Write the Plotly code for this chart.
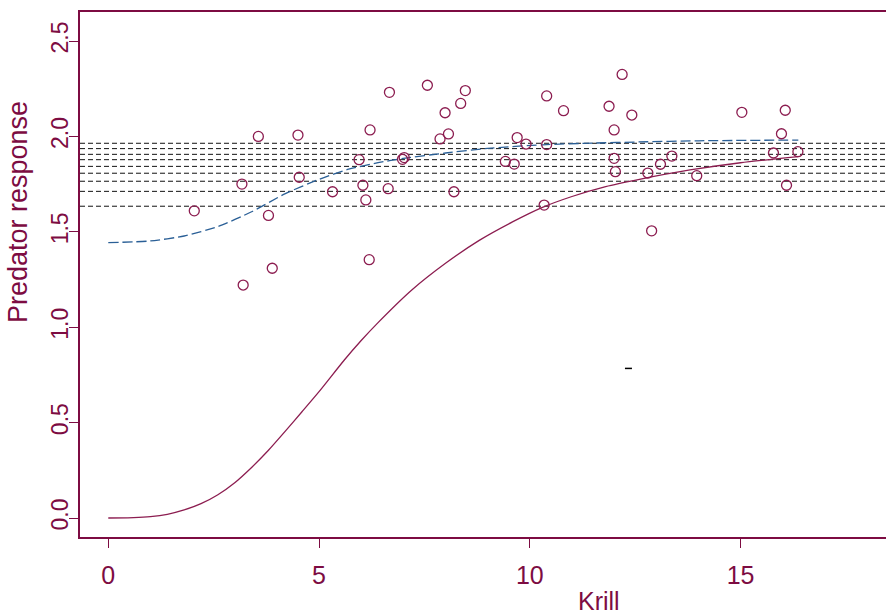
import plotly.graph_objects as go

# Observed krill density vs predator response
krill = [3.56, 4.50, 5.95, 3.17, 4.53, 5.32, 2.04, 3.80, 3.89, 3.20,
         6.04, 6.67, 7.57, 8.47, 8.36, 7.99, 6.21, 8.07, 7.87, 10.40,
         10.80, 11.88, 12.19, 12.00, 9.70, 9.91, 10.40, 7.02, 6.98, 9.42,
         9.63, 12.00, 12.03, 6.64, 6.11, 8.20, 10.34, 6.19, 12.42, 15.03,
         16.06, 15.97, 15.78, 16.36, 12.80, 13.10, 13.37, 13.96, 16.09, 12.89]
response = [2.000, 2.007, 1.878, 1.750, 1.786, 1.710, 1.610, 1.586, 1.309, 1.221,
            1.744, 2.231, 2.268, 2.240, 2.173, 2.124, 2.034, 2.013, 1.987, 2.212,
            2.135, 2.158, 2.325, 2.034, 1.994, 1.960, 1.957, 1.889, 1.880, 1.869,
            1.855, 1.885, 1.815, 1.726, 1.667, 1.710, 1.640, 1.354, 2.112, 2.126,
            2.137, 2.014, 1.913, 1.920, 1.808, 1.854, 1.897, 1.794, 1.744, 1.505]

# Fitted response curve (solid)
fit_x = [0, 0.6, 1.0, 1.4, 1.8, 2.2, 2.6, 3.0, 3.4, 3.8, 4.2, 4.6, 5.0, 5.6,
         6.0, 6.4, 7.2, 8.0, 8.8, 9.6, 10.3, 11.0, 11.8, 12.6, 13.8, 15.0, 16.37]
fit_y = [0.0, 0.002, 0.007, 0.019, 0.042, 0.075, 0.122, 0.185, 0.265, 0.355,
         0.455, 0.558, 0.662, 0.828, 0.93, 1.024, 1.195, 1.335, 1.455, 1.553, 1.628,
         1.685, 1.737, 1.775, 1.824, 1.862, 1.894]

# Alternative fitted curve (dashed)
alt_x = [0, 1.0, 1.8, 2.6, 3.4, 4.2, 5.0, 5.7, 6.4, 7.0, 8.0, 9.0, 10.3,
         11.5, 12.6, 14.0, 16.37]
alt_y = [1.443, 1.452, 1.478, 1.527, 1.605, 1.70, 1.775, 1.828, 1.862,
         1.885, 1.913, 1.937, 1.956, 1.965, 1.971, 1.977, 1.981]

# Horizontal reference levels
ref_levels = [1.964, 1.936, 1.906, 1.878, 1.843, 1.807, 1.765, 1.712, 1.634]

# Small marker
tick_mark_x = [12.34]
tick_mark_y = [0.784]

x_ticks = [0, 5, 10, 15]
y_ticks = [0.0, 0.5, 1.0, 1.5, 2.0, 2.5]

MAROON = "#7d0c42"
POINT = "#8c1d50"
BLUE = "#2a5f96"
NARROW = "Liberation Sans Narrow, Arial Narrow, Liberation Sans, Arial, sans-serif"
SANS = "Liberation Sans, Arial, sans-serif"

X_RANGE = [-0.671, 18.45]
Y_RANGE = [-0.0996, 2.652]

fig = go.Figure()

for lvl in ref_levels:
    fig.add_trace(go.Scatter(
        x=X_RANGE, y=[lvl, lvl], mode="lines",
        line=dict(color="#111111", width=1, dash="5px,3px"),
        showlegend=False, hoverinfo="skip"))

fig.add_trace(go.Scatter(
    x=alt_x, y=alt_y, mode="lines",
    line=dict(color=BLUE, width=1.3, dash="10px,4px", shape="spline", smoothing=0.6),
    showlegend=False))

fig.add_trace(go.Scatter(
    x=fit_x, y=fit_y, mode="lines",
    line=dict(color=POINT, width=1.3, shape="spline", smoothing=0.6),
    showlegend=False))

fig.add_trace(go.Scatter(
    x=krill, y=response, mode="markers",
    marker=dict(symbol="circle-open", size=10, color=POINT, line=dict(width=1.3, color=POINT)),
    showlegend=False))

fig.add_trace(go.Scatter(
    x=tick_mark_x, y=tick_mark_y, mode="markers",
    marker=dict(symbol="line-ew", size=5, line=dict(width=1.5, color="#000000")),
    showlegend=False))

fig.update_layout(
    width=886, height=616,
    margin=dict(l=80, r=0, t=12, b=79),
    paper_bgcolor="white", plot_bgcolor="white",
    showlegend=False,
    xaxis=dict(
        range=X_RANGE, tickvals=x_ticks, ticktext=[str(v) for v in x_ticks],
        showgrid=False, zeroline=False,
        showline=True, mirror=True, linecolor=MAROON, linewidth=1.5,
        ticks="outside", ticklen=9, tickwidth=1.2, tickcolor=MAROON,
        tickfont=dict(family=NARROW, size=25, color=MAROON),
        ticklabelstandoff=6,
    ),
    yaxis=dict(
        range=Y_RANGE, tickvals=y_ticks, tickformat=".1f",
        showgrid=False, zeroline=False,
        showline=True, mirror=False, linecolor=MAROON, linewidth=1.5,
        ticks="outside", ticklen=9, tickwidth=1.2, tickcolor=MAROON,
        tickangle=-90,
        tickfont=dict(family=SANS, size=23, color=MAROON),
        ticklabelstandoff=-8,
    ),
    annotations=[
        dict(text="Krill", xref="paper", yref="paper", x=0.644, y=-0.153,
             xanchor="center", yanchor="bottom", showarrow=False,
             font=dict(family=NARROW, size=25, color=MAROON)),
        dict(text="Predator response", xref="paper", yref="paper", x=-0.0769, y=0.619,
             xanchor="center", yanchor="middle", textangle=-90, showarrow=False,
             font=dict(family=SANS, size=27, color=MAROON)),
    ],
)

fig.write_html("out.html")
